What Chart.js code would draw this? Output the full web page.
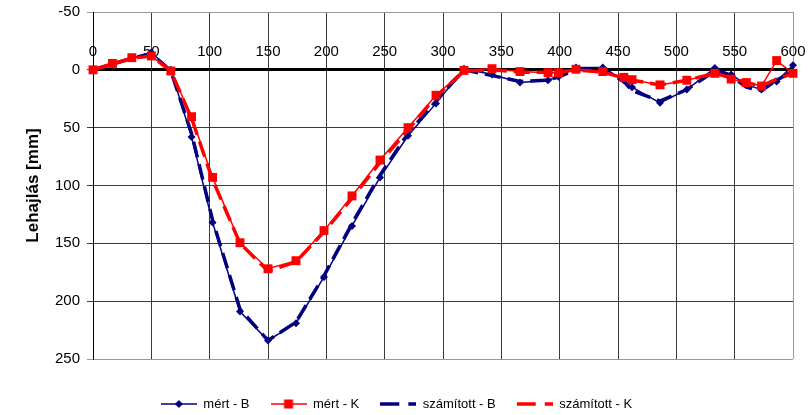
<!DOCTYPE html>
<html>
<head>
<meta charset="utf-8">
<script src="https://cdn.jsdelivr.net/npm/chart.js"></script>
<style>
  html, body { margin: 0; padding: 0; background: #fff; }
</style>
</head>
<body>
<canvas id="chart" width="811" height="415"></canvas>
<script>
// stations along the beam (x) and deflections in mm
const stations = [0, 16.7, 33.3, 50, 66.7, 84.5, 102.5, 126, 150, 174, 198, 222, 246, 270, 294, 318, 342, 366, 390, 399, 414, 437, 455, 462, 486, 509, 533, 547, 560, 573, 586, 600];
const mertB = [0, -5, -10, -15, 0, 58, 132, 209, 234, 219, 179, 135, 93, 57, 29, -1, 4, 11, 9, 6, -2, -2, 9, 15, 28.5, 17, -1.5, 4, 13, 17, 10, -4];
const mertK = [0, -5.5, -10.5, -12, 1, 40.5, 93, 149.5, 172, 165, 139, 109, 78, 50, 22, 0.5, -1, 1.5, 2.5, 2.5, -0.5, 1.5, 6.5, 8.5, 13, 9, 3, 8, 11, 14, -8, 3];
const szamB = [0, -5, -10, -14, 1, 55, 130, 207, 234, 218, 178, 133, 91, 55, 27, 0, 5, 10, 9, 6, 0, -1, 10, 18, 27, 17, 1, 5, 15, 18, 9, 1];
const szamK = [0, -5, -10, -12, 1, 42, 95, 150, 174, 166, 140, 111, 80, 52, 23, 1, 0, 2, 2, 2, 0, 2, 7, 9, 13, 9, 3, 7, 11, 14, 8, 3];

const seriesNames = ['mért - B', 'mért - K', 'számított - B', 'számított - K'];
const xTicks = { min: 0, max: 600, step: 50 };
const yTicks = { min: -50, max: 250, step: 50 };

const NAVY = '#000080';
const RED = '#ff0000';
const FONT = "'Liberation Sans', Arial, sans-serif";
const ICON_W = 36;

function pts(values) {
    return stations.map((x, i) => ({ x: x, y: values[i] }));
}

// small legend icons: line + marker like Excel
function makeIcon(color, lw, dashed, marker) {
    const c = document.createElement('canvas');
    c.width = ICON_W; c.height = 12;
    const g = c.getContext('2d');
    const mid = ICON_W / 2;
    g.strokeStyle = color; g.fillStyle = color; g.lineWidth = lw;
    if (dashed) g.setLineDash([19, 9]);
    g.beginPath(); g.moveTo(0, 6); g.lineTo(ICON_W, 6); g.stroke();
    g.setLineDash([]);
    if (marker === 'diamond') {
        g.beginPath(); g.moveTo(mid, 2); g.lineTo(mid + 4, 6); g.lineTo(mid, 10); g.lineTo(mid - 4, 6); g.closePath(); g.fill();
    } else if (marker === 'square') {
        g.fillRect(mid - 4.5, 1.5, 9, 9);
    }
    return c;
}
const icons = [
    makeIcon(NAVY, 1.5, false, 'diamond'),
    makeIcon(RED, 1.5, false, 'square'),
    makeIcon(NAVY, 3.5, true, null),
    makeIcon(RED, 3.5, true, null)
];

const gridColor = (edgeVals) => ctx => (edgeVals.includes(ctx.tick && ctx.tick.value) ? '#9a9a9a' : '#3a3a3a');

new Chart(document.getElementById('chart'), {
    type: 'line',
    data: {
        datasets: [
            {
                label: seriesNames[0], data: pts(mertB), borderColor: NAVY, backgroundColor: NAVY,
                borderWidth: 1.5, pointStyle: 'rectRot', pointRadius: 4, pointBorderWidth: 0,
                tension: 0, clip: false, order: 2
            },
            {
                label: seriesNames[1], data: pts(mertK), borderColor: RED, backgroundColor: RED,
                borderWidth: 1.5, pointStyle: 'rect', pointRadius: 6.3, pointBorderWidth: 0,
                tension: 0, clip: false, order: 0
            },
            {
                label: seriesNames[2], data: pts(szamB), borderColor: NAVY, backgroundColor: NAVY,
                borderWidth: 3.5, borderDash: [16, 7], pointRadius: 0,
                tension: 0, clip: false, order: 3
            },
            {
                label: seriesNames[3], data: pts(szamK), borderColor: RED, backgroundColor: RED,
                borderWidth: 3.5, borderDash: [16, 7], pointRadius: 0,
                tension: 0, clip: false, order: 1
            }
        ]
    },
    options: {
        responsive: false,
        animation: false,
        layout: { padding: { top: 12, right: 18, bottom: -5.5, left: 0 } },
        plugins: {
            tooltip: { enabled: false },
            legend: {
                position: 'bottom',
                labels: {
                    usePointStyle: true,
                    pointStyleWidth: ICON_W,
                    boxHeight: 12,
                    padding: 21,
                    color: '#000',
                    font: { family: FONT, size: 13 },
                    generateLabels: chart => chart.data.datasets.map((ds, i) => ({
                        text: ds.label,
                        pointStyle: icons[i],
                        fillStyle: 'transparent',
                        strokeStyle: 'transparent',
                        lineWidth: 0,
                        hidden: false,
                        datasetIndex: i,
                        fontColor: '#000'
                    }))
                }
            }
        },
        scales: {
            x: {
                type: 'linear',
                position: { y: 0 },
                min: xTicks.min, max: xTicks.max,
                ticks: {
                    stepSize: xTicks.step,
                    color: '#000',
                    padding: -31,
                    maxRotation: 0,
                    font: { family: FONT, size: 15 }
                },
                grid: { color: gridColor([600]), tickLength: 4, lineWidth: 1 },
                border: { color: '#000', width: 3 }
            },
            xb: {
                type: 'linear',
                position: 'bottom',
                min: 0, max: 1,
                display: true,
                grid: { display: false, drawTicks: false },
                ticks: { display: false },
                border: { display: false },
                afterFit: s => { s.height = 17.5; }
            },
            y: {
                type: 'linear',
                reverse: true,
                min: yTicks.min, max: yTicks.max,
                ticks: {
                    stepSize: yTicks.step,
                    color: '#000',
                    padding: 7,
                    font: { family: FONT, size: 15 }
                },
                grid: { color: gridColor([-50, 250]), tickLength: 6, lineWidth: 1 },
                border: { color: '#000', width: 1 },
                title: {
                    display: true,
                    text: 'Lehajlás [mm]',
                    color: '#000',
                    padding: { top: 23, bottom: 0 },
                    font: { family: FONT, size: 17, weight: 'bold' }
                },
                afterFit: s => { s.width = 93; s.paddingTop = 0; s.paddingBottom = 0; }
            }
        }
    }
});
</script>
</body>
</html>
